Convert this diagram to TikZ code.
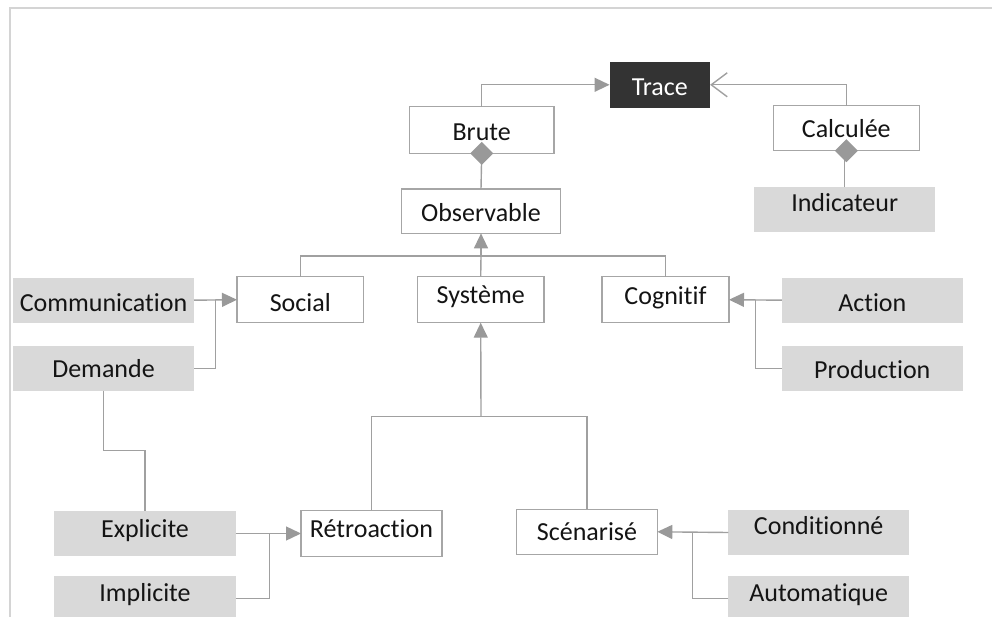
\documentclass[tikz,border=0pt]{standalone}
\usepackage{fontspec}
\setmainfont{Carlito}[Ligatures=NoCommon]
\usetikzlibrary{arrows.meta}
\definecolor{edgegray}{HTML}{A6A6A6}
\definecolor{linegray}{HTML}{A0A0A0}
\definecolor{headgray}{HTML}{999999}
\definecolor{boxfill}{HTML}{D9D9D9}
\definecolor{darkfill}{HTML}{333333}
\definecolor{framegray}{HTML}{D4D4D4}
\definecolor{inkcol}{HTML}{141414}
\newcommand{\up}[2]{\raisebox{#1pt}{#2}}
\begin{document}
\begin{tikzpicture}[x=1pt,y=-1pt,
  every node/.style={font=\fontsize{26}{30}\selectfont, inner sep=0pt, outer sep=0pt,
    text height=23pt, text depth=1pt, text=inkcol},
  whitebox/.style={draw=edgegray, line width=1.3pt, fill=white},
  graybox/.style={fill=boxfill},
  darkbox/.style={fill=darkfill, text=white},
  conn/.style={draw=linegray, line width=1.4pt},
  filledhead/.style={-{Triangle[length=15pt,width=14pt,fill=headgray,color=headgray]}},
  openhead/.style={-{Straight Barb[length=16pt,width=24pt]}},
]
\useasboundingbox (0,0) rectangle (992,617);
% outer frame
\draw[framegray, line width=1.4pt] (10,620) -- (10,8) -- (995,8);

% top level
\node[darkbox, minimum width=100.5pt, minimum height=45.5pt] (trace) at (659.8,84.8) {Trace};
\node[whitebox, minimum width=144.7pt, minimum height=46.6pt] (brute) at (481.7,130) {Brute};
\node[whitebox, minimum width=146pt, minimum height=45pt] (calc) at (846.3,128.2) {\up{1.5}{Calculée}};
\node[graybox, minimum width=180.7pt, minimum height=44.4pt] (indic) at (844.7,209.5) {\up{9}{Indicateur}};
\node[whitebox, minimum width=158.6pt, minimum height=44.3pt] (obs) at (481,211.2) {\up{0.5}{Observable}};

% second level
\node[whitebox, minimum width=126.7pt, minimum height=46pt] (social) at (300.3,299.7) {\up{-1}{Social}};
\node[whitebox, minimum width=126.7pt, minimum height=46pt] (sys) at (480.7,299.7) {\up{7}{Système}};
\node[whitebox, minimum width=127pt, minimum height=46pt] (cog) at (665.5,299.7) {\up{6.4}{Cognitif}};

\node[graybox, minimum width=181pt, minimum height=45pt] (comm) at (103.5,300.2) {Communication};
\node[graybox, minimum width=181pt, minimum height=45pt] (dem) at (103.5,368.2) {\up{1.5}{Demande}};
\node[graybox, minimum width=180.7pt, minimum height=45pt] (action) at (872.3,300.2) {Action};
\node[graybox, minimum width=180.7pt, minimum height=45pt] (prod) at (872.3,368.2) {\up{1}{Production}};

% third level
\node[whitebox, minimum width=141pt, minimum height=46.4pt] (retro) at (371.5,533.5) {\up{7}{Rétroaction}};
\node[whitebox, minimum width=140.6pt, minimum height=45pt] (scen) at (587,531.8) {\up{2}{Scénarisé}};
\node[graybox, minimum width=181.4pt, minimum height=45pt] (expl) at (145,533.5) {\up{7}{Explicite}};
\node[graybox, minimum width=181.4pt, minimum height=45pt] (impl) at (145,598.5) {\up{8.5}{Implicite}};
\node[graybox, minimum width=180.7pt, minimum height=45pt] (cond) at (818.7,532.5) {\up{9}{Conditionné}};
\node[graybox, minimum width=180.7pt, minimum height=45pt] (auto) at (818.7,598.5) {\up{8.5}{Automatique}};

% junction points
\coordinate (obsj) at (481,256);
\coordinate (socj) at (215.7,300.2);
\coordinate (cogj) at (755.7,300.2);
\coordinate (sysj) at (481,416.7);
\coordinate (retj) at (269.3,533.5);
\coordinate (scej) at (692.7,532.5);

% generalisation towards Trace
\draw[conn, filledhead] (brute.north) |- (trace.west);
\draw[conn, openhead] (calc.north) |- (trace.east);

% compositions
\draw[conn] (brute.south) -- (obs.north);
\draw[conn] (indic.north) -- (indic.north |- calc.south);
\fill[headgray] (brute.south) ++(0,-11.5) -- ++(11.5,11.5) -- ++(-11.5,11.5) -- ++(-11.5,-11.5) -- cycle;
\fill[headgray] (calc.south) ++(0,-11.5) -- ++(11.5,11.5) -- ++(-11.5,11.5) -- ++(-11.5,-11.5) -- cycle;

% Observable hierarchy
\draw[conn] (social.north) |- (obsj) -| (cog.north);
\draw[conn, filledhead] (obsj) -- (obs.south);
\draw[conn] (sys.north) -- (obsj);

% Social
\draw[conn, filledhead] (comm.east) -- (social.west);
\draw[conn] (dem.east) -| (socj);

% Cognitif
\draw[conn, filledhead] (action.west) -- (cog.east);
\draw[conn] (prod.west) -| (cogj);

% Système
\draw[conn] (retro.north) |- (sysj) -| (scen.north);
\draw[conn, filledhead] (sysj) -- (sys.south);

% Rétroaction
\draw[conn, filledhead] (expl.east) -- (retro.west);
\draw[conn] (impl.east) -| (retj);
\draw[conn] (dem.south) -- ++(0,60) -| (expl.north);

% Scénarisé
\draw[conn, filledhead] (cond.west) -- (scen.east);
\draw[conn] (auto.west) -| (scej);
\end{tikzpicture}
\end{document}
